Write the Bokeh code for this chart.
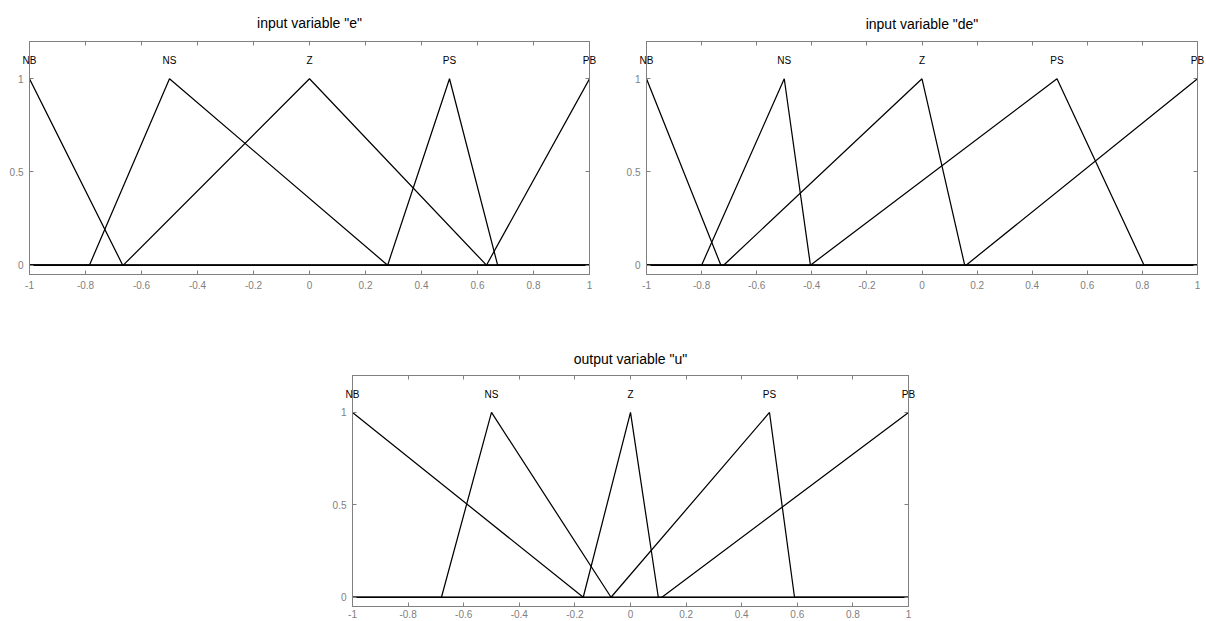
from bokeh.plotting import figure
from bokeh.models import ColumnDataSource, LinearAxis, FixedTicker, Spacer
from bokeh.layouts import column, row
from bokeh.embed import file_html
from bokeh.resources import INLINE

MF_NAMES = ["NB", "NS", "Z", "PS", "PB"]
X_TICKS = [-1.0, -0.8, -0.6, -0.4, -0.2, 0.0, 0.2, 0.4, 0.6, 0.8, 1.0]
X_TICK_LABELS = ["-1", "-0.8", "-0.6", "-0.4", "-0.2", "0", "0.2", "0.4", "0.6", "0.8", "1"]
Y_TICKS = [0.0, 0.5, 1.0]
Y_TICK_LABELS = ["0", "0.5", "1"]

# input variable "e"
E_TITLE = 'input variable "e"'
E_XS = [[-1.0, -0.667, 1.0],
        [-1.0, -0.786, -0.5, 0.279, 1.0],
        [-1.0, -0.665, 0.0, 0.632, 1.0],
        [-1.0, 0.279, 0.5, 0.672, 1.0],
        [-1.0, 0.632, 1.0]]
E_YS = [[1, 0, 0], [0, 0, 1, 0, 0], [0, 0, 1, 0, 0], [0, 0, 1, 0, 0], [0, 0, 1]]
E_PEAKS = [-1.0, -0.5, 0.0, 0.5, 1.0]

# input variable "de"
DE_TITLE = 'input variable "de"'
DE_XS = [[-1.0, -0.73, 1.0],
         [-1.0, -0.8, -0.5, -0.405, 1.0],
         [-1.0, -0.72, 0.0, 0.155, 1.0],
         [-1.0, -0.405, 0.49, 0.806, 1.0],
         [-1.0, 0.16, 1.0]]
DE_YS = [[1, 0, 0], [0, 0, 1, 0, 0], [0, 0, 1, 0, 0], [0, 0, 1, 0, 0], [0, 0, 1]]
DE_PEAKS = [-1.0, -0.5, 0.0, 0.49, 1.0]

# output variable "u"
U_TITLE = 'output variable "u"'
U_XS = [[-1.0, -0.17, 1.0],
        [-1.0, -0.68, -0.5, -0.07, 1.0],
        [-1.0, -0.17, 0.0, 0.1, 1.0],
        [-1.0, -0.07, 0.5, 0.59, 1.0],
        [-1.0, 0.113, 1.0]]
U_YS = [[1, 0, 0], [0, 0, 1, 0, 0], [0, 0, 1, 0, 0], [0, 0, 1, 0, 0], [0, 0, 1]]
U_PEAKS = [-1.0, -0.5, 0.0, 0.5, 1.0]

GRAY = "#808080"
FONT = "Liberation Sans"


def style_axis(ax, ticks, labels, show_labels, standoff):
    ax.ticker = FixedTicker(ticks=ticks)
    ax.axis_line_color = GRAY
    ax.major_tick_line_color = GRAY
    ax.major_tick_in = 4
    ax.major_tick_out = 0
    ax.minor_tick_line_color = None
    ax.major_label_text_font = FONT
    ax.major_label_text_font_size = "10px"
    if show_labels:
        ax.major_label_overrides = dict(zip(ticks, labels))
        ax.major_label_text_color = GRAY
        ax.major_label_standoff = standoff
    else:
        ax.major_label_text_color = None
        ax.major_label_standoff = 0


def make_panel(title, xs, ys, peaks, width, height, left, right, top, bottom,
               xstandoff, tstandoff):
    p = figure(width=width, height=height, x_range=(-1, 1), y_range=(-0.05, 1.2),
               output_backend="svg", toolbar_location=None,
               min_border_left=left, min_border_right=right,
               min_border_top=top, min_border_bottom=bottom)
    p.xgrid.grid_line_color = None
    p.ygrid.grid_line_color = None
    p.outline_line_color = GRAY
    p.background_fill_color = "white"
    p.border_fill_color = "white"
    style_axis(p.xaxis[0], X_TICKS, X_TICK_LABELS, True, xstandoff)
    style_axis(p.yaxis[0], Y_TICKS, Y_TICK_LABELS, True, 6)
    top_ax = LinearAxis()
    style_axis(top_ax, X_TICKS, X_TICK_LABELS, False, 0)
    p.add_layout(top_ax, "above")
    right_ax = LinearAxis()
    style_axis(right_ax, Y_TICKS, Y_TICK_LABELS, False, 0)
    p.add_layout(right_ax, "right")

    # membership-function names, drawn as labels of a top axis pulled into the frame
    name_ax = LinearAxis(ticker=FixedTicker(ticks=peaks),
                         major_label_overrides=dict(zip(peaks, MF_NAMES)),
                         axis_line_color=None, major_tick_line_color=None,
                         minor_tick_line_color=None,
                         major_tick_in=0, major_tick_out=0,
                         major_label_standoff=-24,
                         major_label_text_font=FONT,
                         major_label_text_font_size="10px",
                         major_label_text_color="black")
    p.add_layout(name_ax, "above")

    p.title.text = title
    p.title.align = "center"
    p.title.text_font = FONT
    p.title.text_font_size = "14px"
    p.title.text_font_style = "normal"
    p.title.text_color = "black"
    p.title.standoff = tstandoff

    src = ColumnDataSource(dict(xs=xs, ys=ys))
    p.multi_line(xs="xs", ys="ys", source=src, line_color="black", line_width=1.25)
    return p


p1 = make_panel(E_TITLE, E_XS, E_YS, E_PEAKS, 610, 335, 29, 21, 40, 61, 6, 21)
p2 = make_panel(DE_TITLE, DE_XS, DE_YS, DE_PEAKS, 596, 335, 36, 9, 41, 59, 6, 20)
p3 = make_panel(U_TITLE, U_XS, U_YS, U_PEAKS, 606, 286, 29, 21, 40, 15, 3, 17)

layout = column(row(p1, p2), row(Spacer(width=323, height=286), p3))

open("out.html", "w").write(file_html(layout, INLINE))
